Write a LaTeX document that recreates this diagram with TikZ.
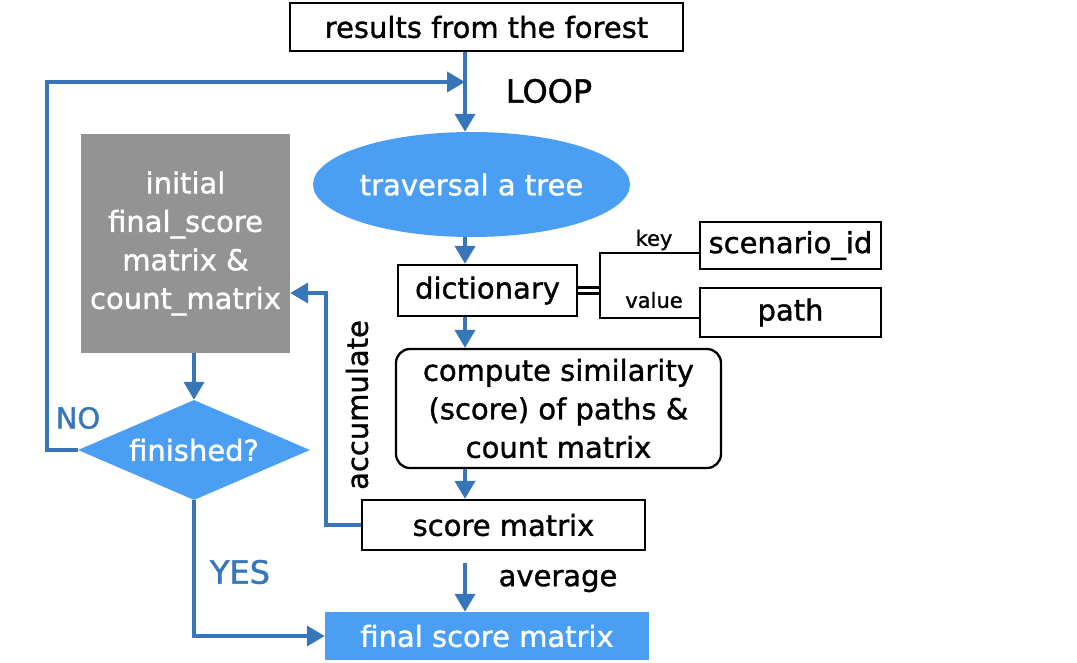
\documentclass[tikz,border=0pt]{standalone}
\usepackage{fontspec}
\setmainfont{DejaVu Sans}[FakeBold=1.2]
\usetikzlibrary{shapes.geometric,arrows.meta,calc}
\definecolor{bfill}{HTML}{4A9FF5}
\definecolor{bline}{HTML}{3876BA}
\definecolor{gfill}{HTML}{939393}
\begin{document}
\begin{tikzpicture}[x=1pt,y=-1pt,
  txt/.style={font=\fontsize{29}{38.5}\selectfont},
  big/.style={font=\fontsize{32}{38}\selectfont},
  small/.style={font=\fontsize{21}{24}\selectfont},
  box/.style={draw=black,line width=2.3pt,inner sep=0pt,txt,align=center},
  arr/.style={draw=bline,line width=4pt,-{Triangle[length=18pt,width=20pt]}},
  bk/.style={draw=black,line width=2.2pt},
  blue/.style={fill=bfill,text=white,inner sep=0pt,txt,align=center}]
\useasboundingbox (0,0) rectangle (1077,662);
\coordinate (mx) at (465,0);
\coordinate (nol) at (47,0);
\coordinate (lj) at (465,82);
\coordinate (acc) at (326,293);
\coordinate (avs) at (465,563);
\coordinate (bx) at (600,0);
\coordinate (kt) at (600,253);
\coordinate (vb) at (600,318);

\node[box,minimum width=393,minimum height=48] (res) at (486.5,27) {results from the forest};
\node[blue,ellipse,minimum width=317,minimum height=105] (ell) at (471.5,184.5) {traversal a tree};
\node[box,minimum width=179,minimum height=51] (dict) at (487.5,290.5) {dictionary};
\node[box,minimum width=181,minimum height=47] (scn) at (790.5,245.5) {scenario\_id};
\node[box,minimum width=181,minimum height=49] (pth) at (790.5,312.5) {path};
\node[box,rounded corners=14pt,minimum width=325,minimum height=119] (cmp) at (558.5,408.5) {compute similarity\\(score) of paths \&\\count matrix};
\node[box,minimum width=283,minimum height=50] (scr) at (503.5,525) {score matrix};
\node[blue,fill=gfill,minimum width=209,minimum height=219] (gray) at (185.5,243.5) {initial\\final\_score\\matrix \&\\count\_matrix};
\node[blue,diamond,aspect=2.32,minimum width=232,minimum height=100] (dia) at (194,450) {finished?};
\node[blue,minimum width=324,minimum height=48] (fin) at (487,636) {final score matrix};

\node[big] (loop) at (549,91) {LOOP};
\node[small] (key) at (654,240) {key};
\node[small] (val) at (654,300) {value};
\node[txt,text=bline] (no) at (78,418) {NO};
\node[big,text=bline] (yes) at (240,572) {YES};
\node[txt] (avg) at (558,581) {average};
\node[txt,rotate=90] (accl) at (357,405) {accumulate};

\draw[arr] (res.south -| mx) -- (ell.north -| mx);
\draw[arr] (dia.west) -- (dia.west -| nol) |- (lj);
\draw[arr] (ell.south -| mx) -- (dict.north -| mx);
\draw[arr] (dict.south -| mx) -- (cmp.north -| mx);
\draw[arr] (cmp.south -| mx) -- (scr.north -| mx);
\draw[arr] (scr.west) -| (acc) -- (acc -| gray.east);
\draw[arr] (gray.south -| dia.north) -- (dia.north);
\draw[arr] (dia.south) |- (fin.west);
\draw[arr] (avs) -- (fin.north -| mx);

\draw[bk] ([yshift=3pt]dict.east) -- ([yshift=3pt]dict.east -| bx);
\draw[bk] ([yshift=-3pt]dict.east) -- ([yshift=-3pt]dict.east -| bx);
\draw[bk] (scn.west |- kt) -- (kt) -- (vb) -- (vb -| pth.west);
\end{tikzpicture}
\end{document}
